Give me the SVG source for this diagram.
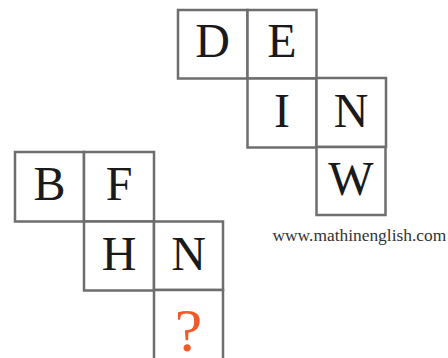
<svg xmlns="http://www.w3.org/2000/svg" width="448" height="358" viewBox="0 0 448 358">
<style>
.box{fill:#fff;stroke:#6e6e6e;stroke-width:2.5}
.lt{font-family:"Liberation Serif","Times New Roman",serif;font-size:48px;fill:#1a1a1a;text-anchor:middle}
.q{font-family:"Liberation Serif","Times New Roman",serif;font-size:62px;fill:#f05a28;text-anchor:middle}
.url{font-family:"Liberation Serif","Times New Roman",serif;font-size:17.4px;fill:#333}
</style>
<rect width="448" height="358" fill="#fff"/>
<g id="top-D"><rect class="box" x="178" y="10" width="69.5" height="68.5"/><text class="lt" x="212.7" y="57">D</text></g>
<g id="top-E"><rect class="box" x="247.5" y="10" width="69" height="68.5"/><text class="lt" x="282" y="57">E</text></g>
<g id="top-I"><rect class="box" x="247.5" y="78.5" width="69" height="69"/><text class="lt" x="282" y="126.5">I</text></g>
<g id="top-N"><rect class="box" x="316.5" y="78" width="69.5" height="69"/><text class="lt" x="351.2" y="126.5">N</text></g>
<g id="top-W"><rect class="box" x="316.5" y="147" width="69" height="68"/><text class="lt" x="351" y="195">W</text></g>
<g id="bot-B"><rect class="box" x="15" y="152" width="69" height="69.5"/><text class="lt" x="49.5" y="200">B</text></g>
<g id="bot-F"><rect class="box" x="84" y="152" width="70" height="69.5"/><text class="lt" x="119" y="200">F</text></g>
<g id="bot-H"><rect class="box" x="84" y="221.5" width="70" height="69"/><text class="lt" x="119" y="269.5">H</text></g>
<g id="bot-N"><rect class="box" x="154" y="221.5" width="69" height="68.5"/><text class="lt" x="188.5" y="269.5">N</text></g>
<g id="bot-Q"><rect class="box" x="154" y="290" width="69" height="70"/><text class="q" x="188.5" y="350.5">?</text></g>
<g id="connectors"></g>
<text class="url" x="272.5" y="240.5">www.mathinenglish.com</text>
</svg>
